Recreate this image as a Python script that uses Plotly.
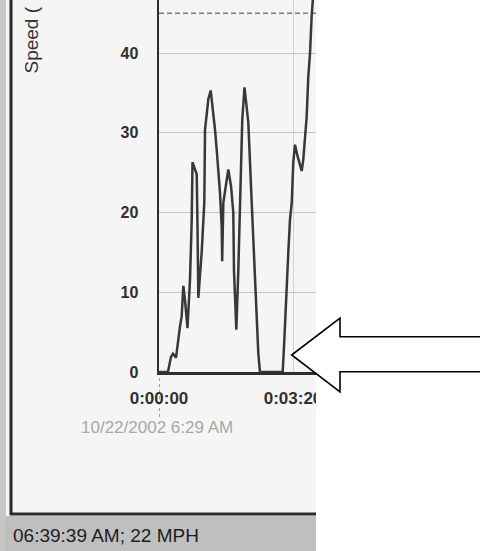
import plotly.graph_objects as go

W, H = 480, 551

# ---- data ----
elapsed_s = [0, 13.4, 17.9, 20.9, 25.4, 28.8, 31.3, 33.9, 36.3, 38.8, 42.5,
             46.3, 48.8, 50, 53, 56.3, 57.5, 58.7, 63.7, 66.1, 67.6, 68.7,
             73.6, 77.2, 81, 83.6, 86.1, 91, 93.6, 94.3, 96, 101, 103.4,
             107.5, 110.9, 111.9, 113.4, 115.4, 118.4, 120.9, 124.3, 127.6,
             130.9, 133.3, 138.4, 140.7, 143.3, 148.2, 150.7, 184.6, 186.6,
             188.1, 190.6, 193, 195.5, 198.1, 200.4, 203, 207, 210.4, 213,
             215.4, 218.7, 220.4, 222.8, 225.4, 227.9, 230.6, 234.3]
speed_mph = [0, 0, 1.9, 2.3, 1.8, 4.4, 5.7, 7.0, 10.8, 9.0, 5.5,
             11.6, 19, 26.3, 25.5, 24.8, 17.9, 9.3, 15, 19, 21.2, 30.4,
             34.2, 35.3, 32.6, 30.4, 27.9, 22.5, 18.2, 13.9, 21.2, 24.5, 25.4,
             23.3, 20, 12.8, 9.4, 5.3, 12.8, 21.2, 31.7, 35.7,
             33.4, 31.3, 21.2, 17, 12.8, 2.4, 0, 0, 3.2,
             6.5, 10.7, 15, 19.1, 21.2, 26.3, 28.5, 27, 25.8, 25.2,
             26.7, 30, 32, 37, 40, 44.7, 49, 52]
time_tick_values = [0, 200]
time_tick_labels = ["0:00:00", "0:03:20"]
speed_tick_values = [0, 10, 20, 30, 40]
speed_limit_mph = 45
start_label = "10/22/2002 6:29 AM"
status_label = "06:39:39 AM; 22 MPH"
y_title = "Speed ("


def px(x):
    return x / W


def py(y):
    return 1 - y / H


FONT = "Liberation Sans, Arial, sans-serif"

fig = go.Figure(
    go.Scatter(
        x=elapsed_s, y=speed_mph, mode="lines",
        line=dict(color="#383838", width=2.5),
        hoverinfo="skip",
    )
)

fig.update_layout(
    template="none",
    width=W, height=H,
    margin=dict(l=0, r=0, t=0, b=0, pad=0, autoexpand=False),
    paper_bgcolor="white",
    plot_bgcolor="rgba(0,0,0,0)",
    showlegend=False,
    xaxis=dict(
        domain=[px(159), 1],
        range=[0, (W - 159) / 0.67],
        tickvals=time_tick_values, ticktext=time_tick_labels,
        ticks="", ticklabelstandoff=9, automargin=False,
        tickfont=dict(family=FONT, size=17, color="#303030", weight="bold"),
        showgrid=True, gridcolor="#d2d2d2", gridwidth=1,
        showline=True, linecolor="#2e2e2e", linewidth=2.5,
        zeroline=False, fixedrange=True,
    ),
    yaxis=dict(
        domain=[py(372), 1],
        range=[0, 372 / 7.975],
        tickvals=speed_tick_values,
        ticks="", ticklabelstandoff=15, automargin=False,
        tickfont=dict(family=FONT, size=16, color="#303030", weight="bold"),
        showgrid=True, gridcolor="#c4c4c4", gridwidth=1,
        showline=True, linecolor="#2e2e2e", linewidth=2.5,
        zeroline=False, fixedrange=True,
    ),
)

shapes = [
    # screenshot background
    dict(type="rect", xref="paper", yref="paper", layer="below",
         x0=px(6), x1=px(316), y0=py(516), y1=py(0),
         fillcolor="#f5f5f5", line=dict(width=0)),
    # left grey strip
    dict(type="rect", xref="paper", yref="paper", layer="below",
         x0=0, x1=px(6), y0=0, y1=1,
         fillcolor="#c6c6c6", line=dict(width=0)),
    # status bar
    dict(type="rect", xref="paper", yref="paper", layer="below",
         x0=px(5), x1=px(316), y0=0, y1=py(516),
         fillcolor="#bfbfbf", line=dict(width=0)),
    # window frame lines
    dict(type="line", xref="paper", yref="paper", layer="below",
         x0=px(11), x1=px(11), y0=py(515), y1=1,
         line=dict(color="#2b2b2b", width=3)),
    dict(type="line", xref="paper", yref="paper", layer="below",
         x0=px(10), x1=px(316), y0=py(514), y1=py(514),
         line=dict(color="#2b2b2b", width=3)),
    # dashed limit line
    dict(type="line", xref="x domain", yref="y", layer="below",
         x0=0, x1=1, y0=speed_limit_mph, y1=speed_limit_mph,
         line=dict(color="#7a7a7a", width=1.5, dash="5px,3px")),
    # dotted start marker below the axis
    dict(type="line", xref="x", yref="paper", layer="below",
         x0=0, x1=0, y0=py(372), y1=py(418),
         line=dict(color="#a0a0a0", width=2, dash="dot")),
    # white area right of the screenshot
    dict(type="rect", xref="paper", yref="paper", layer="above",
         x0=px(316), x1=1.01, y0=-0.01, y1=1.01,
         fillcolor="white", line=dict(width=0)),
]

# outlined arrow pointing left
arrow_pts = [(291.7, 355), (340, 318), (340, 336.7), (486, 336.7),
             (486, 371.7), (340, 371.7), (340, 392)]
path = "M " + " L ".join(f"{px(x):.5f},{py(y):.5f}" for x, y in arrow_pts) + " Z"
shapes.append(dict(type="path", xref="paper", yref="paper", layer="above",
                   path=path, fillcolor="white",
                   line=dict(color="black", width=1.6)))

fig.update_layout(shapes=shapes)

fig.add_annotation(
    text=y_title, textangle=-90, showarrow=False,
    xref="paper", yref="paper", x=px(31), y=py(76),
    xanchor="center", yanchor="bottom",
    font=dict(family=FONT, size=19, color="#333333"),
)
fig.add_annotation(
    text=start_label, showarrow=False,
    xref="paper", yref="paper", x=px(157), y=py(428),
    xanchor="center", yanchor="middle",
    font=dict(family=FONT, size=17, color="#a8a8a8"),
)
fig.add_annotation(
    text=status_label, showarrow=False,
    xref="paper", yref="paper", x=px(11), y=py(535),
    xanchor="left", yanchor="middle",
    font=dict(family=FONT, size=19, color="#1e1e1e"),
)

fig.write_html(
    "out.html",
    config={"displayModeBar": False, "staticPlot": True},
    post_script="document.body.style.margin='0';document.body.style.padding='0';"
                "document.documentElement.style.overflow='hidden';",
)
